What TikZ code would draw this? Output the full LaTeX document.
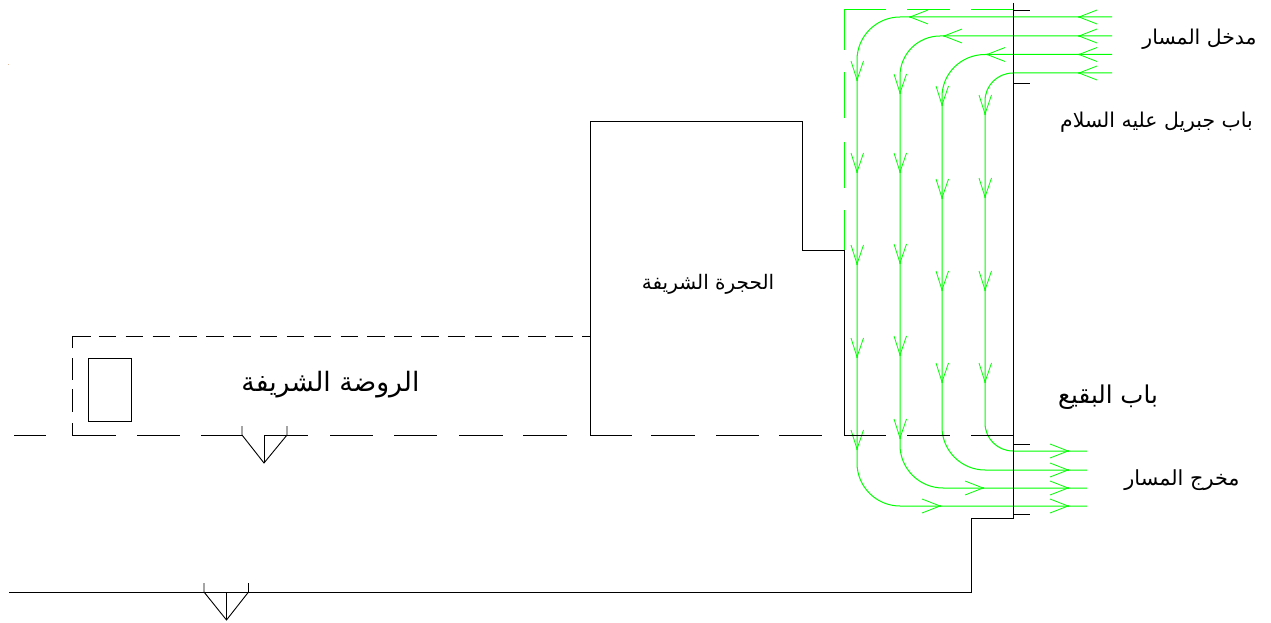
\documentclass[tikz,border=0pt]{standalone}
\usepackage{fontspec}
\TeXXeTstate=1
\newfontfamily\arabicfont[Script=Arabic]{DejaVu Sans}
\definecolor{pathgreen}{RGB}{0,255,0}
\definecolor{specktan}{RGB}{225,190,160}
\tikzset{
  wall/.style={draw=black,line width=0.9pt,line cap=butt,line join=miter},
  route/.style={draw=pathgreen,line width=1pt},
  barb/.style={draw=pathgreen,line width=0.8pt},
  label/.style={inner sep=0pt,anchor=center,text=black}
}
\newcommand{\tipdown}[2]{\draw[barb] (#1-6,#2-19) -- (#1,#2) -- (#1+6.5,#2-19); \fill[pathgreen] (#1,#2) circle (1);}
\newcommand{\tipleft}[2]{\draw[barb] (#1+18,#2-7) -- (#1,#2) -- (#1+18,#2+7); \fill[pathgreen] (#1,#2) circle (1);}
\newcommand{\tipright}[2]{\draw[barb] (#1-18,#2-7) -- (#1,#2) -- (#1-18,#2+7); \fill[pathgreen] (#1,#2) circle (1);}
\begin{document}
\begin{tikzpicture}[x=1pt,y=-1pt]
\useasboundingbox (0,0) rectangle (1271,623);
% speck
\fill[specktan] (7.6,63.6) rectangle (8.8,65);
% green dashed corner
\foreach \a/\b in {72/118,142/188,210/250}
  \draw[route] (844,\a) -- (844,\b);
\draw[route] (844,50) -- (844,10) -- (886,10);
\draw[route] (907,10) -- (950,10);
\draw[route] (971,10) -- (1013,10);
% routes
\draw[route] (1112,17) -- (900,17) .. controls (876.25,17) and (857,36.25) .. (857,60) -- (857,463)
  .. controls (857,486.75) and (876.25,506) .. (900,506) -- (1087,506);
\draw[route] (1112,36) -- (940,36) .. controls (917.9,36) and (900,53.9) .. (900,76) -- (900,445)
  .. controls (900,468.75) and (919.25,488) .. (943,488) -- (1087,488);
\draw[route] (1112,54.5) -- (985,54.5) .. controls (961.25,54.5) and (942,73.25) .. (942,97) -- (942,427)
  .. controls (942,450.75) and (961.25,470) .. (985,470) -- (1087,470);
\draw[route] (1112,73) -- (1013,73) .. controls (997.5,73) and (985,85.5) .. (985,101) -- (985,423)
  .. controls (985,438.5) and (997.5,451) .. (1013,451) -- (1087,451);
% arrow tips in
\foreach \y in {17,36,54.5,73} { \tipleft{1079}{\y} }
\tipleft{910}{17}
\tipleft{944}{36}
\tipleft{987}{54.5}
% arrow tips down
\foreach \x/\y in {857/80,857/172,857/264,857/357,857/449,
                   900/93,900/172,900/263,900/355,900/438,
                   942/105,942/198,942/290,942/382,
                   985/114,985/197,985/290,985/382} { \tipdown{\x}{\y} }
% arrow tips out
\foreach \y in {451,470,488,506} { \tipright{1068}{\y} }
\tipright{983}{488}
\tipright{940}{506}
% outer wall
\draw[wall] (1013,3) -- (1013,518) -- (971,518) -- (971,592) -- (9,592);
\foreach \y in {10,83,444,514.5} \draw[wall] (1013,\y) -- (1030,\y);
% chamber
\draw[wall] (590,435) -- (590,121) -- (802,121) -- (802,250) -- (844,250) -- (844,435);
% dashed south line
\foreach \a/\b in {14/46,72/116,137/180,201/242,264/308,330/373,394/437,459/503,523/567,590/632,651/695,716/759,779/822,844/886,907/950,971/1013}
  \draw[wall] (\a,435) -- (\b,435);
% rawda
\foreach \a/\b in {358/380,389/412,423/435}
  \draw[wall] (72,\a) -- (72,\b);
\draw[wall] (72,348) -- (72,336) -- (91,336);
\foreach \k in {1,...,18}
  \draw[wall] ({72+26.85*\k},336) -- ({72+26.85*\k+17.5},336);
\draw[wall] (582,336) -- (590,336);
\draw[wall] (88,358) rectangle (131,421);
% valves
\draw[wall] (242,426) -- (242,435) -- (264,463) -- (287,435) -- (287,426);
\draw[wall] (264,435) -- (264,463);
\draw[wall] (204,583) -- (204,592) -- (226.5,620) -- (248.5,592) -- (248.5,583);
\draw[wall] (226.5,592) -- (226.5,620);
% labels
\node[label,font=\arabicfont\fontsize{20.4}{24}\selectfont] (entry) at (1199.5,39) {\beginR مدخل المسار\endR};
\node[label,font=\arabicfont\fontsize{20.4}{24}\selectfont] (jibril) at (1156.5,122) {\beginR باب جبريل عليه السلام\endR};
\node[label,font=\arabicfont\fontsize{20}{24}\selectfont] (hujra) at (708,284) {\beginR الحجرة الشريفة\endR};
\node[label,font=\arabicfont\fontsize{26.7}{30}\selectfont] (rawda) at (330.5,385) {\beginR الروضة الشريفة\endR};
\node[label,font=\arabicfont\fontsize{24.5}{28}\selectfont] (baqi) at (1108,397) {\beginR باب البقيع\endR};
\node[label,font=\arabicfont\fontsize{20.8}{24}\selectfont] (exit) at (1182,480) {\beginR مخرج المسار\endR};
\end{tikzpicture}
\end{document}
